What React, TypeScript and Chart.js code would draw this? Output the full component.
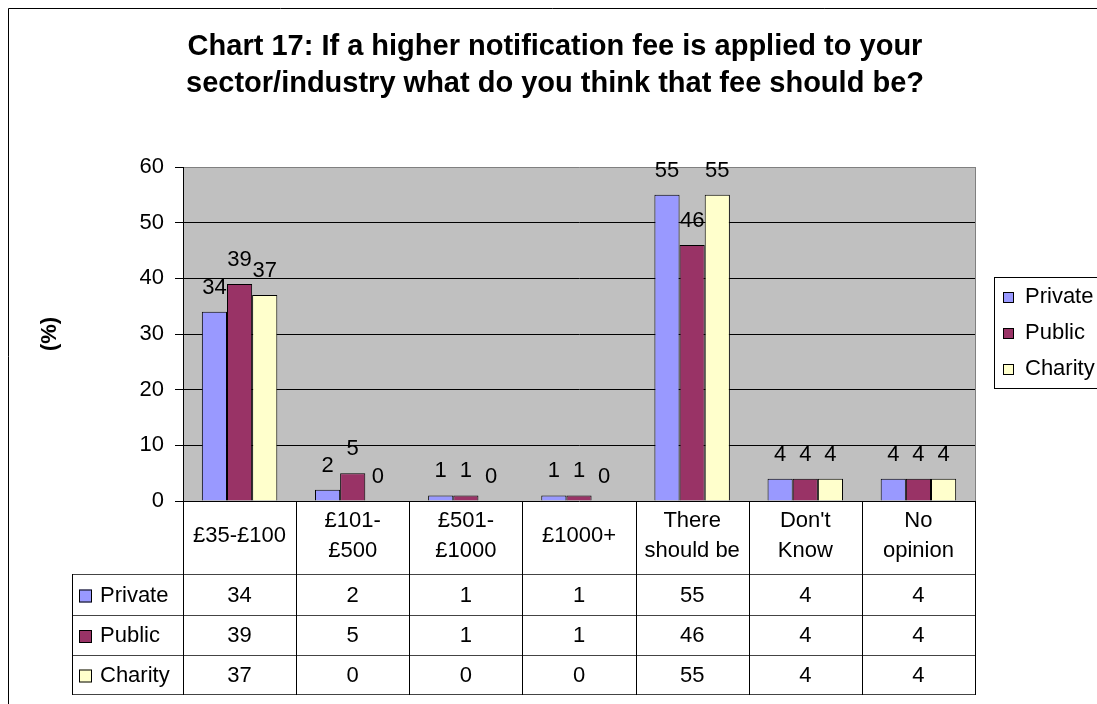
import React, { useEffect, useRef } from "react";
import { Chart, registerables } from "chart.js";

Chart.register(...registerables);

// ---- data ----
const categories: string[][] = [
  ["£35-£100"],
  ["£101-", "£500"],
  ["£501-", "£1000"],
  ["£1000+"],
  ["There", "should be"],
  ["Don't", "Know"],
  ["No", "opinion"],
];
const seriesNames = ["Private", "Public", "Charity"];
const privateValues = [34, 2, 1, 1, 55, 4, 4];
const publicValues = [39, 5, 1, 1, 46, 4, 4];
const charityValues = [37, 0, 0, 0, 55, 4, 4];
const seriesColors = ["#9999FF", "#993366", "#FFFFCC"];
const yMin = 0;
const yMax = 60;
const yStep = 10;
const titleLines = [
  "Chart 17: If a higher notification fee is applied to your",
  "sector/industry what do you think that fee should be?",
];
const yAxisTitle = "(%)";

const FONT = "Arial, 'Liberation Sans', sans-serif";

const decorPlugin = {
  id: "decor",
  beforeDraw(chart: any) {
    const { ctx, chartArea: a } = chart;
    ctx.save();
    ctx.fillStyle = "#ffffff";
    ctx.fillRect(0, 0, chart.width, chart.height);
    ctx.fillStyle = "#C0C0C0";
    ctx.fillRect(a.left, a.top, a.right - a.left, a.bottom - a.top);
    ctx.restore();
  },
  afterDatasetsDraw(chart: any) {
    const { ctx } = chart;
    ctx.save();
    ctx.font = `22px ${FONT}`;
    ctx.fillStyle = "#000";
    ctx.textAlign = "center";
    ctx.textBaseline = "alphabetic";
    chart.data.datasets.forEach((ds: any, i: number) => {
      const meta = chart.getDatasetMeta(i);
      meta.data.forEach((bar: any, j: number) => {
        ctx.fillText(String(ds.data[j]), bar.x, bar.y - 18);
      });
    });
    ctx.restore();
  },
  afterDraw(chart: any) {
    const { ctx, chartArea: a } = chart;
    const xs = chart.scales.x;
    ctx.save();

    // outer chart border
    ctx.strokeStyle = "#000";
    ctx.lineWidth = 1;
    ctx.beginPath();
    ctx.moveTo(8.5, chart.height);
    ctx.lineTo(8.5, 8.5);
    ctx.lineTo(chart.width, 8.5);
    ctx.stroke();

    // right plot border
    ctx.strokeStyle = "#808080";
    ctx.beginPath();
    ctx.moveTo(Math.round(a.right) + 0.5, a.top);
    ctx.lineTo(Math.round(a.right) + 0.5, a.bottom);
    ctx.stroke();

    // title
    ctx.fillStyle = "#000";
    ctx.font = `bold 29px ${FONT}`;
    ctx.textAlign = "center";
    ctx.textBaseline = "alphabetic";
    titleLines.forEach((t, k) => ctx.fillText(t, 555, 55 + k * 37));

    // legend
    const lx = 994.5, ly = 277.5;
    ctx.strokeStyle = "#000";
    ctx.strokeRect(lx, ly, 200, 111);
    ctx.font = `22px ${FONT}`;
    ctx.textAlign = "left";
    ctx.textBaseline = "middle";
    seriesNames.forEach((n, k) => {
      const cy = 297 + k * 36;
      ctx.fillStyle = seriesColors[k];
      ctx.fillRect(1003, cy - 5, 11, 11);
      ctx.strokeStyle = "#000";
      ctx.strokeRect(1003.5, cy - 4.5, 10, 10);
      ctx.fillStyle = "#000";
      ctx.fillText(n, 1025, cy);
    });

    // data table
    const n = categories.length;
    const half = (xs.getPixelForValue(1) - xs.getPixelForValue(0)) / 2;
    const bounds: number[] = [];
    for (let i = 0; i <= n; i++) {
      bounds.push(i < n ? xs.getPixelForValue(i) - half : xs.getPixelForValue(n - 1) + half);
    }
    const headerTop = a.bottom;
    const rowLines = [574, 615, 655, 694];
    const tableLeft = 72;

    ctx.strokeStyle = "#444";
    rowLines.forEach((y) => {
      ctx.beginPath();
      ctx.moveTo(tableLeft, y + 0.5);
      ctx.lineTo(Math.round(bounds[n]) + 1, y + 0.5);
      ctx.stroke();
    });
    ctx.strokeStyle = "#000";
    bounds.forEach((bx) => {
      ctx.beginPath();
      ctx.moveTo(Math.round(bx) + 0.5, headerTop);
      ctx.lineTo(Math.round(bx) + 0.5, rowLines[rowLines.length - 1] + 1);
      ctx.stroke();
    });
    ctx.beginPath();
    ctx.moveTo(tableLeft + 0.5, rowLines[0]);
    ctx.lineTo(tableLeft + 0.5, rowLines[rowLines.length - 1] + 1);
    ctx.stroke();

    ctx.fillStyle = "#000";
    ctx.font = `22px ${FONT}`;
    ctx.textAlign = "center";
    ctx.textBaseline = "middle";
    const headerMid = (headerTop + rowLines[0]) / 2 - 2;
    categories.forEach((lines, i) => {
      const cx = xs.getPixelForValue(i);
      lines.forEach((t, k) => {
        ctx.fillText(t, cx, headerMid + (k - (lines.length - 1) / 2) * 30);
      });
    });

    const rows = [privateValues, publicValues, charityValues];
    rows.forEach((vals, r) => {
      const cy = (rowLines[r] + rowLines[r + 1]) / 2 + 1;
      vals.forEach((v, i) => {
        ctx.textAlign = "center";
        ctx.fillText(String(v), xs.getPixelForValue(i), cy);
      });
      ctx.fillStyle = seriesColors[r];
      ctx.fillRect(79, cy - 6, 13, 13);
      ctx.strokeStyle = "#000";
      ctx.strokeRect(79.5, cy - 5.5, 12, 12);
      ctx.fillStyle = "#000";
      ctx.textAlign = "left";
      ctx.fillText(seriesNames[r], 100, cy);
    });

    ctx.restore();
  },
};

export default function App() {
  const ref = useRef<HTMLCanvasElement>(null);

  useEffect(() => {
    const valuesList = [privateValues, publicValues, charityValues];
    const chart = new Chart(ref.current as HTMLCanvasElement, {
      type: "bar",
      data: {
        labels: categories.map((c) => c.join(" ")),
        datasets: seriesNames.map((name, k) => ({
          label: name,
          data: valuesList[k],
          backgroundColor: seriesColors[k],
          borderColor: "#000",
          borderWidth: 1,
          categoryPercentage: 0.667,
          barPercentage: 1,
        })),
      },
      options: {
        responsive: false,
        animation: false,
        devicePixelRatio: 1,
        events: [],
        layout: { padding: { left: 0, top: 167, right: 122, bottom: 203 } },
        plugins: {
          legend: { display: false },
          title: { display: false },
          tooltip: { enabled: false },
        },
        scales: {
          x: { display: false },
          y: {
            min: yMin,
            max: yMax,
            afterFit: (s: any) => {
              s.width = 183;
            },
            ticks: {
              stepSize: yStep,
              color: "#000",
              padding: 11,
              font: { family: FONT, size: 22 },
            },
            grid: {
              color: (c: any) => (c.tick && c.tick.value === yMax ? "#808080" : "#000"),
              tickColor: "#000",
              tickLength: 8,
              lineWidth: 1,
            },
            border: { color: "#000", width: 1 },
            title: {
              display: true,
              text: yAxisTitle,
              color: "#000",
              font: { family: FONT, size: 22, weight: "bold" },
              padding: { top: 37, bottom: 0 },
            },
          },
        },
      },
      plugins: [decorPlugin],
    } as any);
    return () => chart.destroy();
  }, []);

  return (
    <div
      style={{
        position: "absolute",
        left: 0,
        top: 0,
        width: 1097,
        height: 704,
        overflow: "hidden",
        background: "#fff",
      }}
    >
      <canvas ref={ref} width={1097} height={704} style={{ display: "block", width: 1097, height: 704 }} />
    </div>
  );
}
